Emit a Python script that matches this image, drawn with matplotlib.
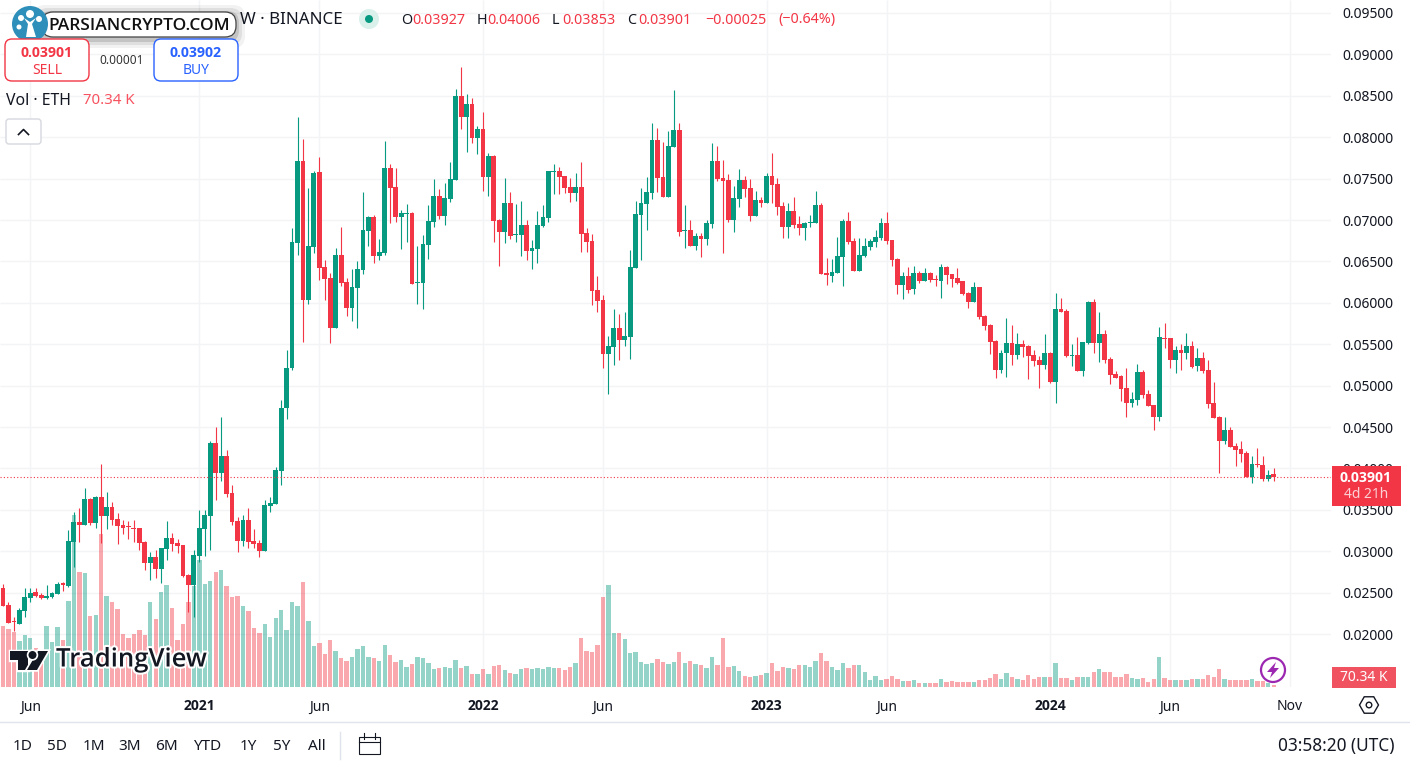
import numpy as np
import matplotlib
matplotlib.use("Agg")
import matplotlib.pyplot as plt
import matplotlib.patheffects as pe
from matplotlib.patches import FancyBboxPatch, Circle, Polygon, Rectangle, RegularPolygon

plt.rcParams['font.family'] = ['Noto Sans', 'DejaVu Sans']
BOLD = ['Open Sans', 'DejaVu Sans']

# Prices in units of 0.00001 ETH
opens = [2559,2350,2157,2125,2282,2435,2507,2475,2435,2447,
2487,2612,2584,3111,3352,3316,3630,3340,3654,3429,
3534,3389,3316,3300,3280,3280,3111,2857,2930,2785,
3026,3159,3099,3075,2712,2592,2942,3268,3429,4307,
3944,4150,3703,3365,3123,3377,3123,3099,3002,3546,
3570,3973,4729,5213,6726,7712,6033,6677,7579,6432,
6299,5699,6577,6251,5941,6182,6400,6867,7040,6565,
6605,7628,7398,7036,7076,7084,6243,6239,6698,6975,
7289,7048,7253,7483,8497,8244,8401,7990,8099,7519,
7773,7000,6855,7205,6822,6818,6939,6625,6649,6928,
7024,7584,7592,7532,7399,7326,7399,6843,6746,6155,
6034,5382,5466,5696,5551,5587,6420,7060,7193,7326,
7966,7519,7278,7882,8087,6867,6879,6686,6807,6771,
6952,7713,7507,7483,7000,7254,7483,7387,7048,7242,
7205,7532,7435,7169,6916,7109,6952,6903,6964,6964,
7181,6360,6324,6359,6553,6987,6746,6384,6565,6673,
6734,6782,6963,6758,6528,6214,6323,6166,6359,6263,
6359,6287,6263,6432,6347,6299,6263,6118,6009,6190,
5840,5731,5538,5188,5393,5514,5369,5502,5478,5369,
5309,5248,5393,5043,5925,5901,5357,5369,5176,5514,
6009,5514,5623,5321,5140,5116,4971,4789,4826,5164,
4898,4765,4620,5575,5575,5309,5430,5393,5478,5236,
5333,5188,4789,4620,4330,4463,4270,4234,4186,3896,4053,4041,3871,3927]
highs = [2600,2390,2209,2318,2559,2551,2559,2491,2592,2511,
2628,2632,3256,3469,3518,3759,3638,3667,4053,3719,
3590,3457,3377,3369,3377,3280,3123,2990,3014,3038,
3369,3224,3143,3075,2724,3014,3497,3497,4331,4504,
4617,4222,3799,3417,3437,3518,3272,3135,3618,3658,
4021,4826,5430,6899,8248,7978,7382,7591,7764,6516,
6355,6657,6919,6299,6404,6504,7334,7048,7060,6774,
7954,7676,7624,7120,7193,7096,6685,6818,7185,7499,
7370,7450,7704,8578,8843,8521,8473,8135,8300,7805,
7785,7008,7507,7338,7193,7225,7000,6754,7112,7181,
7592,7676,7636,7532,7511,7568,7697,6907,6827,6328,
6094,5599,5921,5861,5885,6638,7234,7391,7515,8176,
8107,7942,8079,8570,8176,7177,7000,6839,6847,7000,
7934,7898,7721,7560,7411,7612,7532,7499,7350,7274,
7564,7805,7503,7218,7201,7274,7048,6980,7060,7350,
7205,6541,6529,6798,7012,7096,6778,6786,6778,6766,
6879,7020,7092,6758,6541,6371,6436,6444,6384,6420,
6371,6335,6468,6444,6347,6416,6263,6134,6251,6190,
5852,5743,5550,5429,5816,5731,5639,5550,5490,5429,
5357,5627,5405,6118,6054,5925,5498,5591,5526,6021,
6046,5889,5671,5345,5176,5128,5208,4922,5256,5188,
4946,4765,5711,5752,5575,5478,5502,5631,5538,5454,
5405,5309,5043,4632,4616,4500,4306,4334,4210,4149,4242,4149,3980,4006]
lows = [2338,2129,2040,2125,2209,2390,2451,2427,2418,2439,
2487,2519,2571,2813,3115,3316,3316,3276,3095,3272,
3316,3087,3204,3151,3115,3014,2773,2652,2672,2612,
2894,3006,2974,2684,2269,2209,2873,2942,3014,3618,
3848,3658,3316,2994,3063,3042,3034,2926,3002,3469,
3570,3799,4597,5188,6577,5530,5985,6597,6275,6033,
5510,5699,6202,5840,5780,5699,6347,6685,6476,6516,
6577,6959,6979,6649,6734,6227,5985,5925,6528,6919,
7016,6939,7217,7483,8099,7825,7934,7793,7350,7289,
6730,6444,6722,6770,6734,6565,6516,6408,6476,6916,
6980,7314,7314,7330,7218,7230,6618,6610,5973,5889,
5217,4899,5249,5309,5478,5317,6420,6513,6879,7254,
7338,7278,7278,7882,6807,6666,6686,6638,6549,6698,
6903,7471,6597,6976,6855,7153,7278,6984,7048,7157,
7205,7205,7064,6783,6783,6903,6819,6759,6916,6964,
6348,6215,6251,6359,6202,6710,6384,6384,6553,6637,
6673,6758,6710,6444,6106,6045,6118,6106,6239,6263,
6251,6202,6057,6227,6190,6227,6094,5937,6009,5804,
5671,5381,5087,5152,5103,5248,5321,5345,5075,5236,
4970,5200,5031,4789,5889,5345,5236,5176,5116,5498,
5389,5285,5269,5019,5087,4814,4620,4741,4765,4850,
4753,4463,4572,5454,5212,5152,5184,5321,5212,5176,
5152,4729,4608,3950,4294,4258,4028,4077,3896,3819,4016,3843,3847,3853]
closes = [2338,2137,2149,2290,2447,2499,2459,2435,2459,2499,
2608,2592,3123,3357,3320,3630,3336,3654,3429,3534,
3377,3304,3280,3288,3272,3099,2857,2930,2785,3038,
3159,3087,3063,2700,2592,2954,3280,3437,4307,3944,
4150,3691,3352,3123,3377,3111,3087,3002,3558,3582,
3981,4729,5213,6734,7712,6033,6685,7567,6424,6291,
5699,6577,6239,5941,6190,6408,6879,7040,6565,6613,
7628,7386,7036,7084,7084,6227,6251,6710,6987,7289,
7048,7265,7495,8497,8244,8401,7990,8099,7519,7773,
6987,6855,7205,6806,6830,6939,6625,6661,6939,7036,
7592,7592,7519,7387,7326,7399,6835,6734,6143,6022,
5382,5478,5696,5551,5599,6432,7073,7205,7338,7966,
7507,7278,7894,8087,6855,6875,6686,6807,6771,6964,
7713,7495,7471,7000,7266,7483,7374,7048,7242,7205,
7532,7423,7157,6916,7109,6940,6903,6964,6976,7181,
6348,6332,6372,6565,6987,6734,6384,6577,6686,6746,
6794,6963,6746,6516,6214,6323,6154,6359,6263,6359,
6275,6279,6432,6335,6287,6239,6106,6009,6190,5828,
5719,5526,5188,5393,5514,5369,5502,5466,5357,5297,
5248,5393,5043,5925,5889,5357,5369,5176,5526,6009,
5514,5623,5309,5128,5095,4959,4789,4838,5164,4886,
4753,4620,5587,5562,5309,5430,5393,5478,5224,5333,
5176,4777,4608,4330,4463,4258,4222,4173,3896,4053,4041,3871,3920,3901]
# Volume in thousands of ETH
volumes = [2135,2030,1925,1610,1820,1715,1365,1295,2135,1575,2100,1645,3010,6020,4025,3990,2485,2520,5355,3185,
2975,2730,1855,1715,1855,1995,1820,2975,2380,3325,3570,2765,1645,2205,2975,3535,4445,3605,3710,4025,
4095,3535,3150,3185,2835,2660,2065,1890,2205,1750,2415,2695,1995,2975,2835,
3675,2310,1435,1540,1155,1645,1260,1015,910,1040,
1330,1435,1050,1015,910,1470,1120,875,945,700,805,1050,1015,840,630,665,700,665,945,665,735,455,455,630,455,
735,770,595,490,455,630,665,630,665,630,700,665,665,595,700,840,1715,1260,1225,1470,3150,3570,1890,1890,1680,
1190,1225,875,805,840,980,875,805,875,1225,840,910,805,770,665,1050,770,1715,700,735,560,385,350,385,420,490,
840,560,700,665,630,770,770,700,910,1190,910,688,
595,840,665,770,770,525,245,385,245,280,385,280,210,210,245,140,140,140,140,280,175,198,187,175,175,175,233,245,
327,455,292,490,362,280,245,420,292,362,362,362,840,315,327,245,362,362,362,525,630,525,525,362,362,455,315,280,
327,175,280,1050,315,245,245,245,245,292,292,292,420,362,630,280,245,245,245,245,280,222,222,152,70.34]

price_ticks = [0.095,0.09,0.085,0.08,0.075,0.07,0.065,0.06,0.055,0.05,0.045,0.04,0.035,0.03,0.025,0.02]
time_pos = [5,36,58,88,110,140,162,192,214,236]
time_labels = ['Jun','2021','Jun','2022','Jun','2023','Jun','2024','Jun','Nov']
ranges = ['1D','5D','1M','3M','6M','YTD','1Y','5Y','All']

GREEN, RED = '#089981', '#F23645'
TXT = '#131722'
GRID = '#F3F4F6'
W, H = 1410, 764
fig = plt.figure(figsize=(W/100, H/100), dpi=100, facecolor='white')
ax = fig.add_axes([0, (H-687)/H, 1331/W, 687/H])
vax = ax.twinx()
ax.set_zorder(vax.get_zorder()+1)
ax.patch.set_visible(False)

O, Hi, Lo, C = [np.array(a)*1e-5 for a in (opens, highs, lows, closes)]
x = np.arange(len(O))
cols = [GREEN if c >= o else RED for o, c in zip(O, C)]

ax.set_xlim(-0.55, 243.5)
ax.set_ylim(0.02-53/8280, 0.02+634/8280)

# Grid lives under the volume bars
vax.hlines(price_ticks, -0.55, 243.5, colors=GRID, lw=1, transform=ax.transData, zorder=0)
vax.vlines(time_pos, ax.get_ylim()[0], ax.get_ylim()[1], colors=GRID, lw=1, transform=ax.transData, zorder=0)
vax.bar(x, volumes, width=0.8, color=cols, alpha=0.43, linewidth=0, zorder=1)
vax.set_ylim(0, 687*35)
vax.axis('off')

ax.vlines(x, Lo, Hi, colors=cols, linewidth=0.8, zorder=3)
ax.bar(x, np.maximum(np.abs(C-O), 2e-5), bottom=np.minimum(O, C), width=0.88, color=cols, linewidth=0, zorder=4)
ax.axhline(C[-1], color=RED, lw=0.8, ls=(0, (1, 2)), zorder=5)

ax.set_yticks(price_ticks)
ax.set_yticklabels([f'{p:.5f}' for p in price_ticks], fontsize=10, color=TXT)
ax.yaxis.tick_right()
ax.set_xticks(time_pos)
ax.set_xticklabels(time_labels, fontsize=10, color=TXT)
for t, s in zip(ax.get_xticklabels(), time_labels):
    if s.isdigit():
        t.set_fontfamily(BOLD)
        t.set_fontweight('bold')
ax.tick_params(axis='x', length=0, pad=9)
ax.tick_params(axis='y', length=0, pad=8)
for s in ax.spines.values():
    s.set_visible(False)

# Overlay in screen pixels for the interface furniture
ov = fig.add_axes([0, 0, 1, 1], zorder=20)
ov.set_xlim(0, W); ov.set_ylim(H, 0); ov.axis('off'); ov.patch.set_visible(False)

def T(px, py, s, **k):
    k.setdefault('va', 'center'); k.setdefault('ha', 'left'); k.setdefault('fontsize', 10); k.setdefault('color', TXT)
    return ov.text(px, py, s, **k)

def box(x0, y0, x1, y1, r=5, **k):
    p = FancyBboxPatch((x0, y0), x1-x0, y1-y0, boxstyle=f'round,pad=0,rounding_size={r}', **k)
    ov.add_patch(p)
    return p

# Title line
T(240, 20, 'W · BINANCE', fontsize=12.2)
ov.add_patch(Circle((369, 19), 10, color='#D9F0EB', lw=0))
ov.add_patch(Circle((369, 19), 4, color=GREEN, lw=0))
for px, s, c in [(401,'O',TXT),(412,'0.03927',RED),(477,'H',TXT),(487,'0.04006',RED),(552,'L',TXT),(562,'0.03853',RED),
                 (627,'C',TXT),(638,'0.03901',RED),(705,'−0.00025',RED),(778,'(−0.64%)',RED)]:
    T(px, 20, s, color=c, fontsize=10.3)

# Watermark pill
for g, a in [(9,0.05),(6,0.08),(3,0.12)]:
    box(42-g, 12-g+2, 236+g, 37+g+2, r=12, fc='#000000', ec='none', alpha=a)
box(42, 12, 236, 37, r=11, fc='white', ec='#444444', lw=0.9)
T(48, 26, 'PARSIANCRYPTO.COM', fontsize=12.5, fontfamily=BOLD, fontweight='semibold', color='#111111')
ov.add_patch(Circle((30, 24), 18, color='#2E8FBA', lw=0))
ov.add_patch(Polygon([(26,37),(28,24),(24,18),(30,22),(36,18),(32,24),(36,37)], color='white', lw=0))
for cx, cy, r in [(30,14,4),(21,18,3),(39,19,3),(19,27,2.5)]:
    ov.add_patch(Circle((cx, cy), r, color='white', lw=0))

# Sell / buy
box(5, 39, 89, 81, r=7, fc='white', ec=RED, lw=1)
box(154, 39, 238, 81, r=7, fc='white', ec='#2962FF', lw=1)
T(47, 53, '0.03901', ha='center', color=RED, fontfamily=BOLD, fontweight='bold', fontsize=10.2)
T(47, 70, 'SELL', ha='center', color=RED, fontsize=10)
T(196, 53, '0.03902', ha='center', color='#2962FF', fontfamily=BOLD, fontweight='bold', fontsize=10.2)
T(196, 70, 'BUY', ha='center', color='#2962FF', fontsize=10)
T(122, 60, '0.00001', ha='center', fontsize=8.5, color='#333333')
T(6, 101, 'Vol · ETH', fontsize=11.4)
T(83, 101, '70.34 K', color='#F7525F', fontsize=10.8)
box(6, 119, 41, 144, r=3, fc='white', ec='#D6D8DE', lw=1)
ov.plot([18.5, 23.5, 28.5], [134.5, 129.5, 134.5], color=TXT, lw=1.2)

# Last price label
ov.add_patch(Rectangle((1332, 466), 69, 40, color=RED, lw=0))
T(1366, 478, '0.03901', ha='center', color='white', fontfamily=BOLD, fontweight='bold', fontsize=10.2)
T(1366, 494, '4d 21h', ha='center', color='#FBD0D4', fontsize=10)
ov.add_patch(Rectangle((1332, 667), 64, 21, color='#F0525F', lw=0))
T(1364, 677.5, '70.34 K', ha='center', color='white', fontweight='medium', fontsize=10)

# TradingView mark
halo = [pe.withStroke(linewidth=3, foreground='white')]
T(56, 660, 'TradingView', fontsize=18.5, fontfamily=BOLD, fontweight='semibold', color=TXT, path_effects=halo)
for pts in ([(10,651),(28,651),(28,670),(18,670),(18,660),(10,660)], [(38,651),(48,651),(37,670),(27,670)]):
    ov.add_patch(Polygon(pts, fc=TXT, ec='none', path_effects=[pe.withStroke(linewidth=2.5, foreground='white')]))
ov.add_patch(Circle((32.5, 655), 4, fc=TXT, ec='none', path_effects=[pe.withStroke(linewidth=2.5, foreground='white')]))

# Lightning icon
ov.add_patch(Circle((1273, 670), 12, fc='white', ec='#9C27B0', lw=1.6))
ov.add_patch(Polygon([(1276,662),(1267,672),(1272,672),(1270,678),(1279,668),(1274,668)], color='#9C27B0', lw=0))

# Settings icon
ov.add_patch(RegularPolygon((1369, 705), 6, radius=9.5, orientation=np.pi/6, fc='white', ec=TXT, lw=1))
ov.add_patch(Circle((1369, 705), 2.8, fc='white', ec=TXT, lw=1))

# Bottom toolbar
ov.plot([0, W], [721.5, 721.5], color='#E0E3EB', lw=1)
for px, s in zip([23,57,94,130,166,207,248,282,317], ranges):
    T(px, 746, s, ha='center', fontsize=11)
ov.plot([340, 340], [732, 759], color='#E0E3EB', lw=1)
ov.add_patch(Rectangle((359, 737), 21, 17, fc='none', ec=TXT, lw=0.8))
ov.plot([359, 380], [742, 742], color=TXT, lw=0.8)
ov.plot([364, 364], [733, 739], color=TXT, lw=0.8)
ov.plot([375, 375], [733, 739], color=TXT, lw=0.8)
T(1394, 746, '03:58:20 (UTC)', ha='right', fontsize=12.4)

fig.savefig('out.png', dpi=100)
